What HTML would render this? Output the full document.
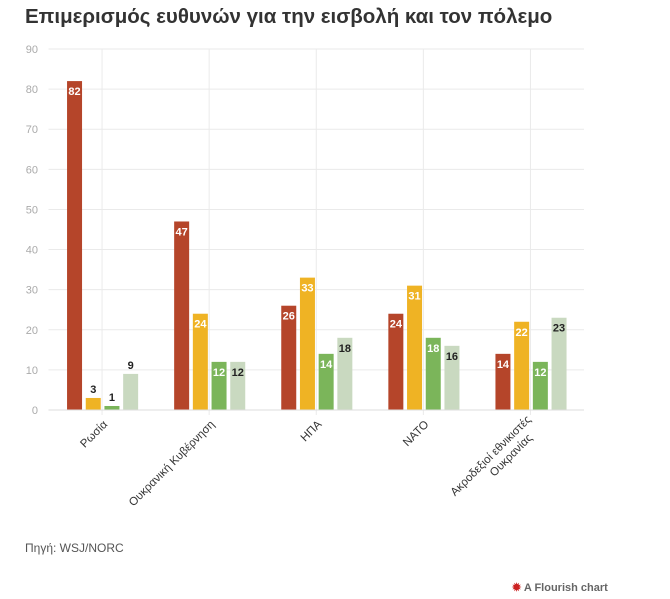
<!DOCTYPE html>
<html><head><meta charset="utf-8">
<style>
body{margin:0;width:670px;height:599px;background:#fff;font-family:"Liberation Sans","Noto Sans CJK SC",sans-serif;overflow:hidden;position:relative}
h1{position:absolute;left:25px;top:5px;margin:0;font-size:20.5px;font-weight:bold;color:#333;white-space:nowrap}
#src{position:absolute;left:25px;top:541px;font-size:12px;color:#555}
#fl{position:absolute;left:512px;top:581px;font-size:11px;font-weight:bold;color:#666}
svg{position:absolute;left:0;top:0}
</style></head><body>
<h1>Επιμερισμός ευθυνών για την εισβολή και τον πόλεμο</h1>
<svg id="c" width="670" height="599"></svg>
<div id="src">Πηγή: WSJ/NORC</div>
<div id="fl"><span style="color:#c22">✹</span> A Flourish chart</div>
<script>
const categories=["Ρωσία","Ουκρανική Κυβέρνηση","ΗΠΑ","ΝΑΤΟ","Ακροδεξιοί εθνικιστές\nΟυκρανίας"];
const seriesA=[82,47,26,24,14];
const seriesB=[3,24,33,31,22];
const seriesC=[1,12,14,18,12];
const seriesD=[9,12,18,16,23];
const yTicks=[0,10,20,30,40,50,60,70,80,90];
const colors=["#b5452a","#efb324","#7bb55a","#c9d9c0"];
const labelColors=["#fff","#fff","#fff","#222"];
const svg=document.getElementById('c');const NS="http://www.w3.org/2000/svg";
const x0=48.5,x1=584,yT=49,yB=410,yMax=90;
const y=v=>yB-(v/yMax)*(yB-yT);
const bw=(x1-x0)/categories.length;
const xc=i=>x0+bw*(i+0.5);
function el(t,a){const e=document.createElementNS(NS,t);for(const k in a)e.setAttribute(k,a[k]);svg.appendChild(e);return e;}
yTicks.forEach(t=>{
 const l=el('line',{x1:x0,x2:x1,y1:y(t),y2:y(t),stroke:'#eaeaea'});
 
 
 const tx=el('text',{x:38,y:y(t)+4,'text-anchor':'end','font-size':11,fill:'#aaa'});tx.textContent=t;
 
 
});
categories.forEach((c,i)=>{
 const l=el('line',{x1:xc(i),x2:xc(i),y1:yT,y2:yB+5,stroke:'#eaeaea'});
 
 
 const lines=c.split('\n');
 const g=el('text',{transform:`translate(${xc(i)+6},${yB+15}) rotate(-45)`,'text-anchor':'end','font-size':11.5,fill:'#333'});
 
 
 lines.forEach((ln,j)=>{const ts=document.createElementNS(NS,'tspan');ts.setAttribute('x',lines.length>1&&j>0?-12:0);ts.setAttribute('dy',j==0?(lines.length>1?-7:0):14);ts.textContent=ln;g.appendChild(ts);});
});
const series=[seriesA,seriesB,seriesC,seriesD];
const offs=[-35,-16.3,2.4,21.1],w=15;
series.forEach((s,k)=>s.forEach((v,i)=>{
 const bx=xc(i)+offs[k],by=y(v);
 const r=el('rect',{x:bx,y:by,width:w,height:yB-by,fill:colors[k]});
 
 
 const inside=v>=10;
 const t=el('text',{x:bx+w/2,y:inside?by+14:by-5,'text-anchor':'middle','font-size':11,'font-weight':'bold',fill:inside?labelColors[k]:'#222'});
 t.textContent=v;
 
 
}));
el('line',{x1:x0,x2:x1,y1:yB,y2:yB,stroke:'#ddd'});
</script>
</body></html>
